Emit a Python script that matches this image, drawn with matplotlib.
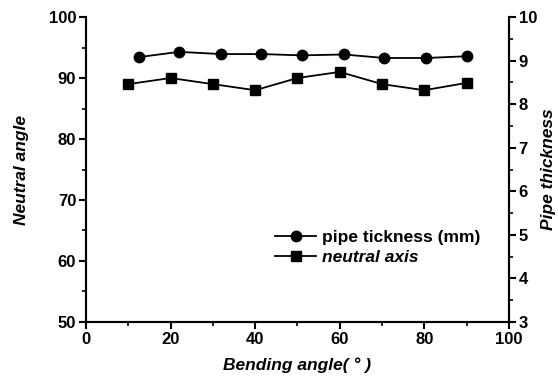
import matplotlib.pyplot as plt
from matplotlib.ticker import MultipleLocator

plt.rcParams['font.family'] = ['Liberation Sans', 'DejaVu Sans']

# data
bend_thick = [12.5, 22, 32, 41.5, 51, 61, 70.5, 80.5, 90]
thickness = [9.08, 9.2, 9.15, 9.15, 9.12, 9.14, 9.06, 9.06, 9.1]
bend_neutral = [10, 20, 30, 40, 50, 60, 70, 80, 90]
neutral = [89, 90, 89, 88, 90, 91, 89, 88, 89.2]

fig = plt.figure(figsize=(5.58, 3.87), dpi=100)
ax = fig.add_axes([0.154, 0.168, 0.758, 0.788])
ax2 = ax.twinx()

l2, = ax.plot(bend_neutral, neutral, color='black', lw=1.3, marker='s', ms=6.5,
              label='neutral axis')
l1, = ax2.plot(bend_thick, thickness, color='black', lw=1.3, marker='o', ms=7.5,
               label='pipe tickness (mm)')

ax.set_xlim(0, 100)
ax.set_ylim(50, 100)
ax2.set_ylim(3, 10)

ax.xaxis.set_major_locator(MultipleLocator(20))
ax.xaxis.set_minor_locator(MultipleLocator(10))
ax.yaxis.set_major_locator(MultipleLocator(10))
ax.yaxis.set_minor_locator(MultipleLocator(5))
ax2.yaxis.set_major_locator(MultipleLocator(1))
ax2.yaxis.set_minor_locator(MultipleLocator(0.5))

for a in (ax, ax2):
    a.spines['top'].set_visible(False)
    for s in a.spines.values():
        s.set_linewidth(1.5)
    a.tick_params(which='major', direction='out', length=5, width=1.5,
                  labelsize=12, pad=2)
    a.tick_params(which='minor', direction='out', length=3, width=1.2)
    for lab in a.get_xticklabels() + a.get_yticklabels():
        lab.set_fontweight('bold')

ax.set_xlabel('Bending angle( ° )', fontsize=12.5, fontweight='bold',
              fontstyle='italic', labelpad=8)
ax.set_ylabel('Neutral angle', fontsize=12.5, fontweight='bold',
              fontstyle='italic', labelpad=14)
ax2.set_ylabel('Pipe thickness', fontsize=12.5, fontweight='bold',
               fontstyle='italic', labelpad=3)

leg = ax2.legend(handles=[l1, l2], loc='center left', bbox_to_anchor=(0.43, 0.245),
                 frameon=False, fontsize=12.5, handlelength=2.4, handletextpad=0.3,
                 labelspacing=0.3, borderaxespad=0)
texts = leg.get_texts()
texts[0].set_fontweight('bold')
texts[1].set_fontweight('bold')
texts[1].set_fontstyle('italic')

fig.savefig('out.png', dpi=100)
